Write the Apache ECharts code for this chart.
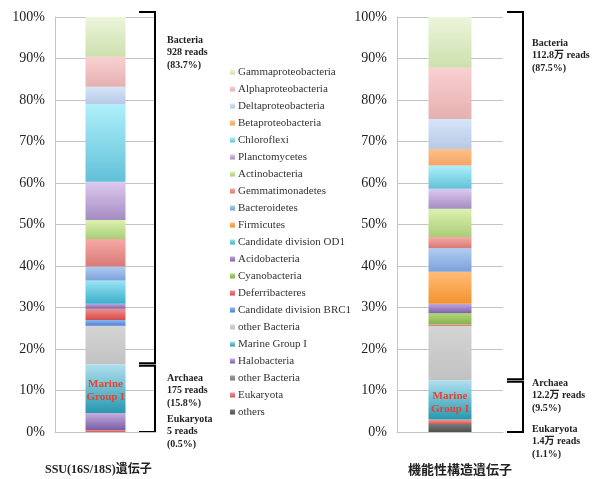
<!DOCTYPE html>
<html><head><meta charset="utf-8">
<script src="https://cdn.jsdelivr.net/npm/echarts@6/dist/echarts.min.js"></script>
<style>html,body{margin:0;padding:0;background:#fff}#c{width:596px;height:479px}</style>
</head><body><div id="c"></div>
<script>
// Legend order (top to bottom); stacks are built bottom-up in reverse order
const taxa = ['Gammaproteobacteria','Alphaproteobacteria','Deltaproteobacteria','Betaproteobacteria','Chloroflexi','Planctomycetes','Actinobacteria','Gemmatimonadetes','Bacteroidetes','Firmicutes','Candidate division OD1','Acidobacteria','Cyanobacteria','Deferribacteres','Candidate division BRC1','other Bacteria','Marine Group I','Halobacteria','other Bacteria ','Eukaryota','others'];
const ssuValues  = [9.6, 7.2, 4.2, 0, 18.7, 9.2, 4.6, 6.6, 3.4, 0, 5.6, 1.2, 0, 2.7, 1.4, 9.3, 11.7, 4.1, 0, 0.5, 0];
const funcValues = [12.2, 12.4, 7.2, 4.0, 5.6, 4.8, 6.8, 2.7, 5.7, 7.7, 0, 2.3, 2.7, 0.3, 0, 13.1, 9.5, 0, 0, 1.1, 1.9];
const yTicks = [0,10,20,30,40,50,60,70,80,90,100];
const chartTitles = ['SSU(16S/18S)遺伝子', '機能性構造遺伝子'];
const ssuGroupText = [['Bacteria','928 reads','(83.7%)'], ['Archaea','175 reads','(15.8%)'], ['Eukaryota','5 reads','(0.5%)']];
const funcGroupText = [['Bacteria','112.8万 reads','(87.5%)'], ['Archaea','12.2万 reads','(9.5%)'], ['Eukaryota','1.4万 reads','(1.1%)']];
// cumulative boundaries of groups (percent): bacteria top/bottom, archaea+eukaryota bottom
const ssuBounds = [100, 16.3, 0];
const funcBounds = [100, 12.5, 0];

const colors = [
 ['#ecf6da','#cddfae'], ['#fad0d0','#e5b0b0'], ['#d6e5f8','#b6c9e5'], ['#fdc18a','#f6a466'],
 ['#aef0fb','#62c0d8'], ['#dccaef','#a48cc2'], ['#dcf2ae','#aacd78'], ['#f6aaa6','#d87a76'],
 ['#b0ccf2','#7ca2da'], ['#ffbd78','#f4922e'], ['#98e4f4','#3eaecb'], ['#bea8dc','#7e62a8'],
 ['#b0d878','#86b04c'], ['#f49090','#d24c4c'], ['#8cb8f2','#4c80d0'], ['#d4d4d4','#c2c2c2'],
 ['#b0e0ee','#2898b0'], ['#c6aee0','#7a5ea6'], ['#a0a0a0','#7c7c7c'], ['#f29a96','#cc5a56'],
 ['#7a7a7a','#4e4e4e']
];
function grad(c){ return new echarts.graphic.LinearGradient(0,0,0,1,[{offset:0,color:c[0]},{offset:1,color:c[1]}]); }

const serif = "'Liberation Serif','Noto Sans CJK JP',serif";
const series = [];
[ssuValues, funcValues].forEach((vals, gi) => {
  for (let i = taxa.length - 1; i >= 0; i--) {
    const s = {
      name: taxa[i], type: 'bar', stack: 's' + gi, xAxisIndex: gi, yAxisIndex: gi,
      barWidth: gi === 0 ? 40 : 43,
      itemStyle: { color: grad(colors[i]) },
      data: [vals[i]], silent: true
    };
    if (taxa[i] === 'Marine Group I') {
      s.label = { show: true, position: 'inside', formatter: 'Marine\nGroup I', color: '#e8432e',
        fontFamily: serif, fontWeight: 'bold', fontSize: 11, lineHeight: 13, offset: [0, gi === 0 ? 2 : 3] };
    }
    series.push(s);
  }
});

const axisGrey = '#c4c4c4';
const yAxisBase = {
  type: 'value', min: 0, max: 100, interval: 10,
  axisLine: { show: true, lineStyle: { color: axisGrey } }, axisTick: { show: false },
  splitLine: { lineStyle: { color: axisGrey } },
  axisLabel: { formatter: '{value}%', fontFamily: serif, fontSize: 14, color: '#222', margin: 10 }
};
const xAxisBase = { type: 'category', data: ['a'], axisLine: { lineStyle: { color: axisGrey } },
  axisTick: { show: false }, axisLabel: { show: false } };

const chart = echarts.init(document.getElementById('c'));
chart.setOption({
  animation: false,
  grid: [
    { left: 55, width: 101, top: 17, height: 415 },
    { left: 397, width: 106, top: 17, height: 415 }
  ],
  xAxis: [Object.assign({ gridIndex: 0 }, xAxisBase), Object.assign({ gridIndex: 1 }, xAxisBase)],
  yAxis: [Object.assign({ gridIndex: 0 }, yAxisBase), Object.assign({ gridIndex: 1 }, yAxisBase)],
  legend: {
    data: taxa, orient: 'vertical', left: 225, top: 61, icon: 'rect', itemWidth: 5, itemHeight: 5,
    itemGap: 5, selectedMode: false,
    textStyle: { fontFamily: serif, fontSize: 11, color: '#333', lineHeight: 12, padding: [0,0,0,-2] }
  },
  series: series
});

// annotations: brackets and group labels positioned from the axes
const g = [];
function bracketAndText(gi, bounds, texts, bx, tx) {
  const py = v => chart.convertToPixel({ yAxisIndex: gi }, v);
  const top = py(bounds[0]) - 5, mid = py(bounds[1]), bot = py(bounds[2]);
  const w = 16;
  g.push({ type: 'polyline', shape: { points: [[bx - w, top], [bx, top], [bx, mid - 1], [bx - w, mid - 1]] },
    style: { stroke: '#000', lineWidth: 2, fill: null } });
  g.push({ type: 'polyline', shape: { points: [[bx - w, mid + 1.5], [bx, mid + 1.5], [bx, bot], [bx - w, bot]] },
    style: { stroke: '#000', lineWidth: 2, fill: null } });
  const ys = gi === 0 ? [34, 372, 413] : [37, 377, 423];
  texts.forEach((t, k) => {
    g.push({ type: 'text', x: tx, y: ys[k], style: { text: t.join('\n'), fontFamily: serif, fontWeight: 'bold',
      fontSize: 10, lineHeight: 12.5, fill: '#222' } });
  });
}
bracketAndText(0, ssuBounds, ssuGroupText, 155, 167);
bracketAndText(1, funcBounds, funcGroupText, 523, 532);
g.push({ type: 'text', x: 45, y: 464, style: { text: chartTitles[0], fontFamily: serif, fontWeight: 'bold', fontSize: 12, fill: '#222' } });
g.push({ type: 'text', x: 408, y: 464, style: { text: chartTitles[1], fontFamily: serif, fontWeight: 'bold', fontSize: 13, fill: '#222' } });
chart.setOption({ graphic: g });
</script></body></html>
